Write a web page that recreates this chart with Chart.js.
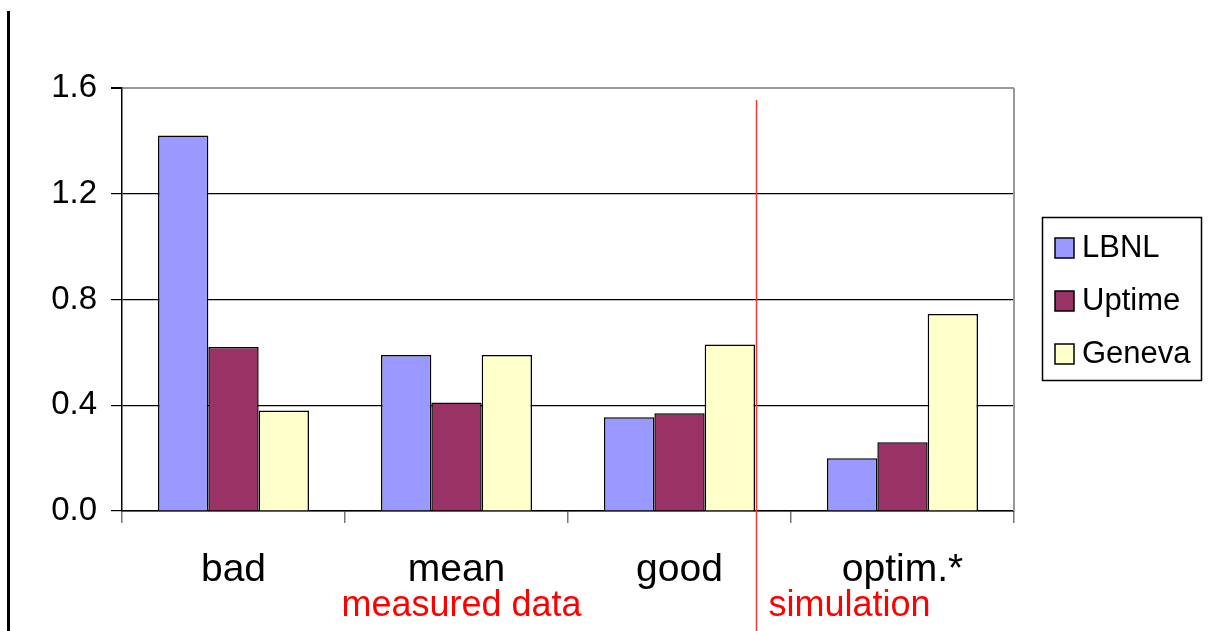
<!DOCTYPE html>
<html><head><meta charset="utf-8">
<script src="https://cdn.jsdelivr.net/npm/chart.js@4"></script>
<style>html,body{margin:0;padding:0;background:#fff}#wrap{width:1219px;height:631px}</style>
</head><body><div id="wrap"><canvas id="c" width="1219" height="631"></canvas></div>
<script>
const categories = ['bad', 'mean', 'good', 'optim.*'];
const seriesNames = ['LBNL', 'Uptime', 'Geneva'];
const lbnl = [1.42, 0.59, 0.355, 0.20];
const uptime = [0.62, 0.41, 0.37, 0.26];
const geneva = [0.38, 0.59, 0.63, 0.745];
const yTickLabels = ['0.0', '0.4', '0.8', '1.2', '1.6'];
const colors = ['#9999FF', '#993366', '#FFFFCC'];
const noteMeasured = 'measured data';
const noteSimulation = 'simulation';
const FONT = '"Liberation Sans", Arial, sans-serif';

const decor = {
  id: 'decor',
  afterDraw(chart) {
    const ctx = chart.ctx, a = chart.chartArea, x = chart.scales.x, y = chart.scales.y;
    ctx.save();
    // page left rule
    ctx.fillStyle = '#000';
    ctx.fillRect(7, 11, 3, 620);
    // right plot border
    ctx.strokeStyle = '#999';
    ctx.lineWidth = 2;
    ctx.beginPath(); ctx.moveTo(a.right, a.top); ctx.lineTo(a.right, a.bottom); ctx.stroke();
    // red separator
    const rx = Math.round(x.getPixelForValue(2.345)) + 0.5;
    ctx.strokeStyle = '#FF3333';
    ctx.lineWidth = 1.5;
    ctx.beginPath(); ctx.moveTo(rx, y.getPixelForValue(1.555)); ctx.lineTo(rx, chart.height); ctx.stroke();
    // notes
    ctx.fillStyle = '#FF0000';
    ctx.font = '36px ' + FONT;
    ctx.textBaseline = 'middle';
    ctx.textAlign = 'center';
    ctx.fillText(noteMeasured, x.getPixelForValue(1) + 5, 606);
    ctx.textAlign = 'left';
    ctx.fillText(noteSimulation, rx + 12, 606);
    // legend
    const lx = 1042, ly = 217, lw = 159, lh = 163;
    ctx.strokeStyle = '#000'; ctx.lineWidth = 1.5;
    ctx.strokeRect(lx + 0.5, ly + 0.5, lw, lh);
    ctx.font = '31px ' + FONT;
    ctx.textAlign = 'left';
    chart.data.datasets.forEach((ds, i) => {
      const cy = 248 + i * 53;
      ctx.fillStyle = ds.backgroundColor;
      ctx.fillRect(lx + 13, cy - 10, 19, 20);
      ctx.strokeStyle = '#000'; ctx.lineWidth = 1.5;
      ctx.strokeRect(lx + 13, cy - 10, 19, 20);
      ctx.fillStyle = '#000';
      ctx.fillText(ds.label, lx + 40, cy);
    });
    ctx.restore();
  }
};

new Chart(document.getElementById('c'), {
  type: 'bar',
  data: {
    labels: categories,
    datasets: [lbnl, uptime, geneva].map((d, i) => ({
      label: seriesNames[i], data: d, backgroundColor: colors[i],
      borderColor: '#000', borderWidth: 1.5,
      categoryPercentage: 0.677, barPercentage: 1.0
    }))
  },
  options: {
    responsive: false, animation: false, devicePixelRatio: 1,
    layout: { padding: { top: 88, right: 205, left: 0, bottom: 0 } },
    plugins: { legend: { display: false }, tooltip: { enabled: false } },
    scales: {
      x: {
        offset: true,
        grid: { offset: true, drawOnChartArea: false, drawTicks: true, tickLength: 12, color: '#777', lineWidth: 1.5 },
        border: { color: '#000', width: 1.5 },
        ticks: { color: '#000', font: { family: FONT, size: 39 }, padding: 24, maxRotation: 0 },
        afterFit(s) { s.height = 120; }
      },
      y: {
        min: 0, max: 1.6,
        ticks: { stepSize: 0.4, color: '#000', font: { family: FONT, size: 33 }, padding: 14,
          callback: (v) => yTickLabels[Math.round(v / 0.4)] },
        grid: { color: (c) => (c.tick && Math.abs(c.tick.value - 1.6) < 1e-6) ? '#999' : '#000',
          lineWidth: (c) => (c.tick && Math.abs(c.tick.value - 1.6) < 1e-6) ? 2 : 1.2,
          tickLength: 11, tickColor: '#000' },
        border: { color: '#000', width: 1.5 },
        afterFit(s) { s.width = 122; }
      }
    }
  },
  plugins: [decor]
});
</script></body></html>
